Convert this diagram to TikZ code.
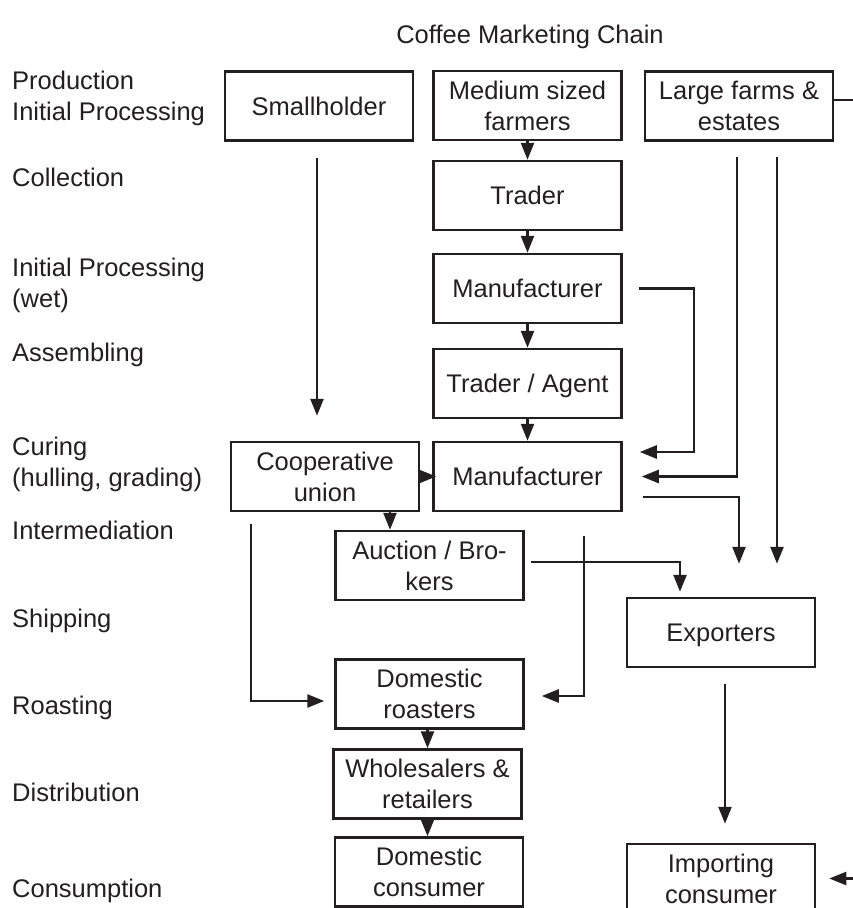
\documentclass[tikz,border=0pt]{standalone}
\usepackage{fontspec}
\setmainfont{Liberation Sans}
\usetikzlibrary{arrows.meta,calc}
\definecolor{ink}{RGB}{35,31,32}
\begin{document}
\begin{tikzpicture}[x=1pt,y=-1pt,
  every node/.style={font=\fontsize{25.5}{31}\selectfont, text=ink},
  box/.style={draw=ink, line width=2.5pt, inner sep=0pt, minimum width=188pt, minimum height=69pt, align=center, text height=18.3pt, text depth=0pt},
  lab/.style={anchor=west, align=left, inner sep=0pt, text height=18.3pt, text depth=0pt},
  two/.style={text height=49.3pt},
  ttl/.style={inner sep=0pt, text height=18.3pt, text depth=0pt},
  conn/.style={draw=ink, line width=2.5pt},
  arr/.style={conn, -{Triangle[length=17pt,width=13pt]}}]
\path[use as bounding box, clip] (0,0) rectangle (853,908);

\node[ttl] (title) at (530,34) {Coffee Marketing Chain};

% stage labels
\node[lab,two] (l1) at (12,96) {Production\\Initial Processing};
\node[lab] (l2) at (12,177) {Collection};
\node[lab,two] (l3) at (12,283) {Initial Processing\\(wet)};
\node[lab] (l4) at (12,352) {Assembling};
\node[lab,two] (l5) at (12,462) {Curing\\(hulling, grading)};
\node[lab] (l6) at (12,530) {Intermediation};
\node[lab] (l7) at (12,618) {Shipping};
\node[lab] (l8) at (12,705) {Roasting};
\node[lab] (l9) at (12,792) {Distribution};
\node[lab] (l10) at (12,888) {Consumption};

% boxes
\node[box] (small) at (319,106) {Smallholder};
\node[box,two] (medium) at (527.5,105.5) {Medium sized\\farmers};
\node[box,two] (large) at (739,106) {Large farms \&\\estates};
\node[box] (trader) at (527.5,195.5) {Trader};
\node[box] (manu1) at (527.5,288.5) {Manufacturer};
\node[box] (agent) at (527.5,383.5) {Trader / Agent};
\node[box] (manu2) at (527.5,476.5) {Manufacturer};
\node[box,two] (coop) at (325,476.5) {Cooperative\\union};
\node[box,two] (auction) at (429.5,565.5) {Auction / Bro-\\kers};
\node[box,two] (roast) at (429.5,694) {Domestic\\roasters};
\node[box,two] (whole) at (427.5,784) {Wholesalers \&\\retailers};
\node[box,two] (dcons) at (429,872) {Domestic\\consumer};
\node[box] (export) at (721,632.5) {Exporters};
\node[box,two] (import) at (721,878.5) {Importing\\consumer};

% connectors
\draw[arr] (medium) -- (trader);
\draw[arr] (trader) -- (manu1);
\draw[arr] (manu1) -- (agent);
\draw[arr] (agent) -- (manu2);
\draw[arr] ($(small.south)+(-2,16)$) -- ($(small.south |- coop.north)+(-2,-25)$);
\draw[arr] ($(manu1.east)+(16,0)$) -- ++(55,0) |- ($(manu2.east)+(17,-24.5)$);
\draw[arr] ($(large.south)+(-2,15)$) |- ($(manu2.east)+(19,0)$);
\draw[arr] ($(large.south)+(38,15)$) -- ($(export.north)+(56,-33)$);
\draw[arr] ($(manu2.east)+(20,20.5)$) -| ($(export.north)+(18,-33)$);
\draw[arr] ($(auction.east)+(6,-3.5)$) -| ($(export.north)+(-41,-5)$);
\draw[arr] ($(roast.east)+(59,-158)$) |- ($(roast.east)+(17,2)$);
\draw[arr] ($(coop.south)+(-74,12)$) |- ($(roast.west)+(-10,7)$);
\draw[arr] ($(coop.south)+(65,0)$) -- ($(auction.north)+(-39.5,0)$);
\draw[arr] (coop.east) -- ($(manu2.west)+(4,0)$);
\draw[arr] (roast.south -| whole.north) -- (whole.north);
\draw[arr] (whole.south) -- (whole.south |- dcons.north);
\draw[arr] ($(export.south)+(4,16)$) -- ($(import.north)+(4,-19)$);
\draw[arr] ($(import.east)+(38,0)$) -- ($(import.east)+(13,0)$);
\draw[conn] ($(large.east)+(0,-6)$) -- ++(20,0);
\end{tikzpicture}
\end{document}
